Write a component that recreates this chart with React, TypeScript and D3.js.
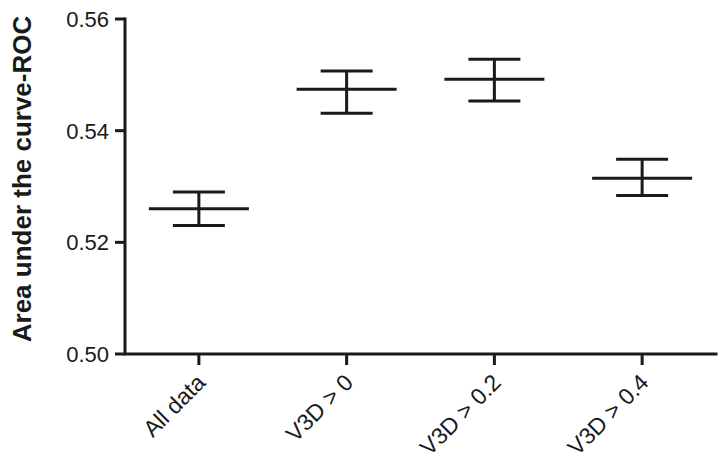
import React, { useRef, useEffect } from "react";
import * as d3 from "d3";

// groups on the x axis
const categories = ["All data", "V3D > 0", "V3D > 0.2", "V3D > 0.4"];
// mean AUC and the error bar ends
const means = [0.526, 0.5474, 0.5492, 0.5315];
const upper = [0.529, 0.5507, 0.5528, 0.5349];
const lower = [0.523, 0.5431, 0.5453, 0.5284];
const yTicks = [0.5, 0.52, 0.54, 0.56];

const App = () => {
  const ref = useRef<SVGSVGElement>(null);

  useEffect(() => {
    const width = 727;
    const height = 462;
    const left = 125;
    const right = 716;
    const top = 19;
    const bottom = 354;
    const ink = "#1a1a1a";
    const font = "'Liberation Sans', Arial, Helvetica, sans-serif";

    const svg = d3.select(ref.current).attr("width", width).attr("height", height);
    svg.selectAll("*").remove();

    const x = d3.scaleBand<string>().domain(categories).range([left, right]);
    const y = d3.scaleLinear().domain([0.5, 0.56]).range([bottom, top]);
    const cx = (i: number) => (x(categories[i]) as number) + x.bandwidth() / 2;

    // axes
    svg
      .append("path")
      .attr("d", `M${left},${y(0.56)}V${bottom}H${right}`)
      .attr("fill", "none")
      .attr("stroke", ink)
      .attr("stroke-width", 3)
      .attr("stroke-linecap", "square")
      .attr("stroke-linejoin", "miter");

    svg
      .selectAll(".ytick")
      .data(yTicks)
      .enter()
      .append("line")
      .attr("x1", left - 10)
      .attr("x2", left)
      .attr("y1", (d) => y(d))
      .attr("y2", (d) => y(d))
      .attr("stroke", ink)
      .attr("stroke-width", 3);

    svg
      .selectAll(".ylabel")
      .data(yTicks)
      .enter()
      .append("text")
      .attr("x", left - 16)
      .attr("y", (d) => y(d))
      .attr("dy", "0.36em")
      .attr("text-anchor", "end")
      .attr("font-size", "22px")
      .style("font-family", font)
      .attr("fill", ink)
      .text((d) => d3.format(".2f")(d));

    svg
      .selectAll(".xtick")
      .data(categories)
      .enter()
      .append("line")
      .attr("x1", (_d, i) => cx(i))
      .attr("x2", (_d, i) => cx(i))
      .attr("y1", bottom)
      .attr("y2", bottom + 11)
      .attr("stroke", ink)
      .attr("stroke-width", 3);

    svg
      .selectAll(".xlabel")
      .data(categories)
      .enter()
      .append("text")
      .attr("transform", (_d, i) => `translate(${cx(i) + 8},${bottom + 30}) rotate(-45)`)
      .attr("text-anchor", "end")
      .attr("font-size", "23px")
      .style("font-family", font)
      .attr("fill", ink)
      .text((d) => d);

    // y title
    svg
      .append("text")
      .attr("transform", `translate(31,179) rotate(-90)`)
      .attr("text-anchor", "middle")
      .attr("font-size", "26px")
      .attr("font-weight", "bold")
      .style("font-family", font)
      .attr("fill", ink)
      .text("Area under the curve-ROC");

    // error bars
    const bars = svg
      .selectAll(".bar")
      .data(categories)
      .enter()
      .append("g")
      .attr("stroke", ink)
      .attr("stroke-width", 3);

    bars
      .append("line")
      .attr("x1", (_d, i) => cx(i))
      .attr("x2", (_d, i) => cx(i))
      .attr("y1", (_d, i) => y(upper[i]))
      .attr("y2", (_d, i) => y(lower[i]));

    bars
      .append("line")
      .attr("x1", (_d, i) => cx(i) - 50)
      .attr("x2", (_d, i) => cx(i) + 50)
      .attr("y1", (_d, i) => y(means[i]))
      .attr("y2", (_d, i) => y(means[i]));

    bars
      .append("line")
      .attr("x1", (_d, i) => cx(i) - 26)
      .attr("x2", (_d, i) => cx(i) + 26)
      .attr("y1", (_d, i) => y(upper[i]))
      .attr("y2", (_d, i) => y(upper[i]));

    bars
      .append("line")
      .attr("x1", (_d, i) => cx(i) - 26)
      .attr("x2", (_d, i) => cx(i) + 26)
      .attr("y1", (_d, i) => y(lower[i]))
      .attr("y2", (_d, i) => y(lower[i]));
  }, []);

  return (
    <svg
      ref={ref}
      style={{ position: "absolute", left: 0, top: 0, background: "#fff" }}
    />
  );
};

export default App;
